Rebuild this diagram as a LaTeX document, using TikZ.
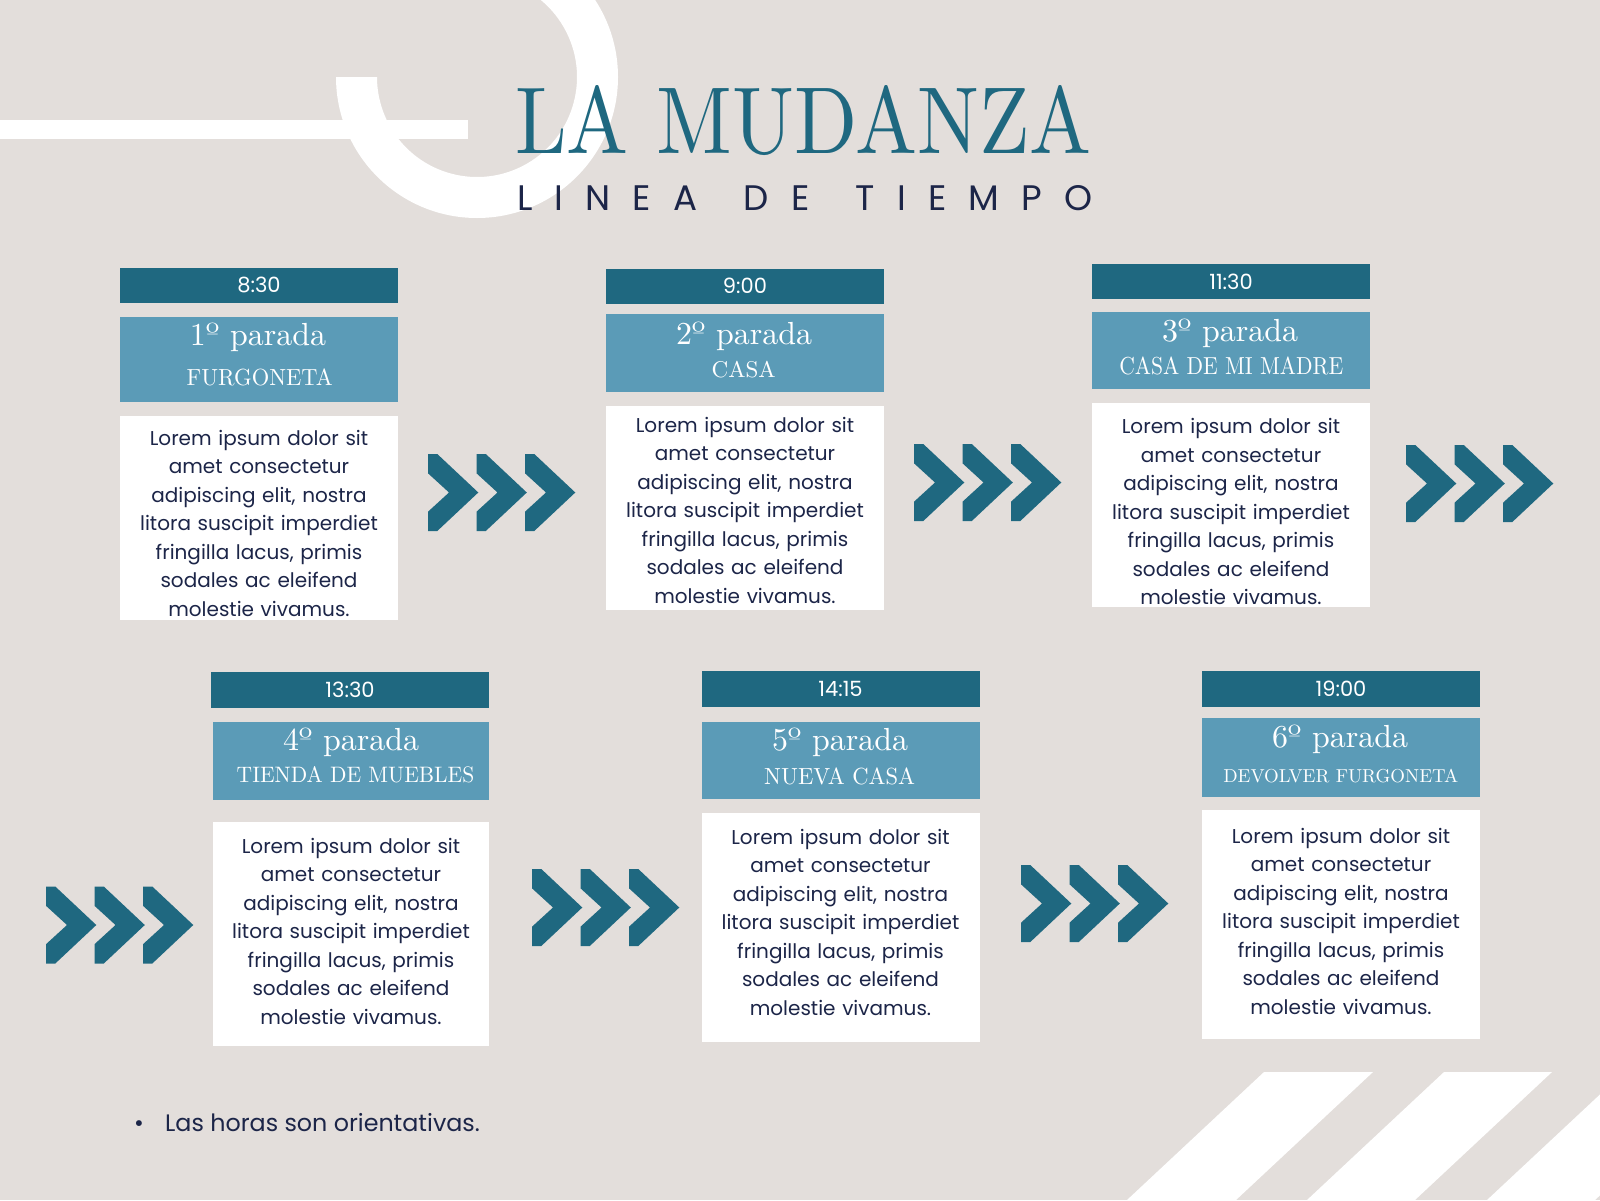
\documentclass[tikz,border=0pt]{standalone}
\usepackage{fontspec}
\usepackage{graphicx}
\usetikzlibrary{calc}
\newfontfamily\poppins{Poppins}
\newfontfamily\lmd{lmroman10-regular}[Extension=.otf]
\definecolor{bgc}{HTML}{E3DEDB}
\definecolor{darkc}{HTML}{1F6880}
\definecolor{lightc}{HTML}{5B9BB7}
\definecolor{navyc}{HTML}{1C2548}
\newcommand\lsp{\kern0.62em}
\newcommand\subt[3]{\resizebox{#1pt}{#2pt}{\lmd #3}}
\newcommand\parada[1]{\resizebox{136pt}{!}{\lmd\fontsize{30}{30}\selectfont #1º parada}}
\newcommand\loremtext{\strut Lorem ipsum dolor sit\\amet consectetur\\adipiscing elit, nostra\\litora suscipit imperdiet\\fringilla lacus, primis\\sodales ac eleifend\\molestie vivamus.}
\tikzset{
  tbar/.style={fill=darkc, draw=none, inner sep=0pt, minimum width=278pt, minimum height=35pt},
  hbox/.style={fill=lightc, draw=none, inner sep=0pt, minimum width=278pt},
  wbox/.style={fill=white, draw=none, inner sep=0pt, minimum width=278pt},
  timetxt/.style={text=white, font=\poppins\fontsize{21}{24}\selectfont, anchor=base, inner sep=0pt},
  numtxt/.style={text=white, anchor=base, inner sep=0pt},
  subtxt/.style={text=white, anchor=base, inner sep=0pt},
  bodytxt/.style={text=navyc, font=\poppins\fontsize{20}{28.5}\selectfont, align=center, text width=278pt, anchor=north, inner sep=0pt},
  chevfill/.style={fill=darkc, draw=none},
  deco/.style={fill=white, draw=none},
  chevs/.pic={
    \foreach \dx in {0,48.5,97}{
      \fill[chevfill, shift={(\dx,0)}] (0,0) -- (9.3,0) -- (50.3,38.5) -- (9.3,77) -- (0,77) -- (0,57.7) -- (21,38.5) -- (0,19.3) -- cycle;
    }
  }
}
\begin{document}
\begin{tikzpicture}[x=1pt, y=-1pt]
\useasboundingbox (0,0) rectangle (1600,1200);
\clip (0,0) rectangle (1600,1200);
\fill[bgc] (0,0) rectangle (1600,1200);
% decorations
\coordinate (rc) at (477,77);
\fill[deco] ($(rc)+(180:141)$) arc[start angle=180, end angle=-120, radius=141] -- ($(rc)+(-120:100)$) arc[start angle=-120, end angle=180, radius=100] -- cycle;
\fill[deco] (0,120) rectangle (468,138.7);
\fill[deco] (1264,1072) -- (1373,1072) -- (1236,1200) -- (1127,1200) -- cycle;
\fill[deco] (1444,1072) -- (1552,1072) -- (1415,1200) -- (1307,1200) -- cycle;
\fill[deco] (1624,1072) -- (1732,1072) -- (1595,1200) -- (1487,1200) -- cycle;
% title
\node[anchor=base west, inner sep=0pt, text=darkc] (title) at (515,153) {\resizebox{576pt}{68pt}{\lmd LA MUDANZA}};
\node[anchor=base west, inner sep=0pt, text=navyc] (subtitle) at (517,210) {\resizebox{575pt}{25pt}{\poppins L\lsp I\lsp N\lsp E\lsp A\hspace{1.3em}D\lsp E\hspace{1.3em}T\lsp I\lsp E\lsp M\lsp P\lsp O}};
% box 1
\node[tbar] (t1) at (259,285.5) {};
\node[hbox, minimum height=85pt] (h1) at (259,359.5) {};
\node[wbox, minimum height=204pt] (w1) at (259,518) {};
\node[timetxt] (tt1) at (259,292.5) {8:30};
\node[numtxt] (n1) at (258,345.7) {\parada{1}};
\node[subtxt] (s1) at (259.7,385) {\subt{146}{16.7}{FURGONETA}};
\node[bodytxt] (b1) at (259,425) {\loremtext};
% box 2
\node[tbar] (t2) at (745,286.5) {};
\node[hbox, minimum height=78pt] (h2) at (745,353) {};
\node[wbox, minimum height=204pt] (w2) at (745,508) {};
\node[timetxt] (tt2) at (745,293.5) {9:00};
\node[numtxt] (n2) at (744,344) {\parada{2}};
\node[subtxt] (s2) at (743.7,377.7) {\subt{64}{16.3}{CASA}};
\node[bodytxt] (b2) at (745,412) {\loremtext};
% box 3
\node[tbar] (t3) at (1231,281.6) {};
\node[hbox, minimum height=77.5pt] (h3) at (1231,350.3) {};
\node[wbox, minimum height=203.7pt] (w3) at (1231,505.2) {};
\node[timetxt] (tt3) at (1231,289) {11:30};
\node[numtxt] (n3) at (1230,341) {\parada{3}};
\node[subtxt] (s3) at (1231.3,374.3) {\subt{224}{17.6}{CASA DE MI MADRE}};
\node[bodytxt] (b3) at (1231,413.4) {\loremtext};
% box 4
\node[tbar, minimum height=35.7pt] (t4) at (350,689.85) {};
\node[hbox, minimum width=276pt, minimum height=78pt] (h4) at (351,761) {};
\node[wbox, minimum width=276pt, minimum height=224.3pt] (w4) at (351,933.85) {};
\node[timetxt] (tt4) at (350,697) {13:30};
\node[numtxt] (n4) at (351,750) {\parada{4}};
\node[subtxt] (s4) at (355.5,782.7) {\subt{237.6}{16}{TIENDA DE MUEBLES}};
\node[bodytxt] (b4) at (351,833.3) {\loremtext};
% box 5
\node[tbar, minimum height=35.7pt] (t5) at (840.5,688.85) {};
\node[hbox, minimum height=77.3pt] (h5) at (840.5,760.35) {};
\node[wbox, minimum height=229pt] (w5) at (840.5,927.8) {};
\node[timetxt] (tt5) at (840.5,696) {14:15};
\node[numtxt] (n5) at (840,750) {\parada{5}};
\node[subtxt] (s5) at (839.6,784) {\subt{150.7}{16.7}{NUEVA CASA}};
\node[bodytxt] (b5) at (840.5,824) {\loremtext};
% box 6
\node[tbar, minimum height=35.7pt] (t6) at (1341,688.85) {};
\node[hbox, minimum height=78.7pt] (h6) at (1341,757.35) {};
\node[wbox, minimum height=229pt] (w6) at (1341,924.5) {};
\node[timetxt] (tt6) at (1341,696) {19:00};
\node[numtxt] (n6) at (1340,747.3) {\parada{6}};
\node[subtxt] (s6) at (1340.8,782.7) {\subt{235}{13.4}{DEVOLVER FURGONETA}};
\node[bodytxt] (b6) at (1341,823.3) {\loremtext};
% chevrons
\pic (g1) at (428,454) {chevs};
\pic (g2) at (914,444) {chevs};
\pic (g3) at (1406,445) {chevs};
\pic (g4) at (46,886.5) {chevs};
\pic (g5) at (532,869) {chevs};
\pic (g6) at (1021,865) {chevs};
% note
\node[anchor=base west, inner sep=0pt, text=navyc, font=\poppins\fontsize{23.8}{28}\selectfont] (note) at (134,1131.7) {\makebox[31pt][l]{•}Las horas son orientativas.};
\end{tikzpicture}
\end{document}
